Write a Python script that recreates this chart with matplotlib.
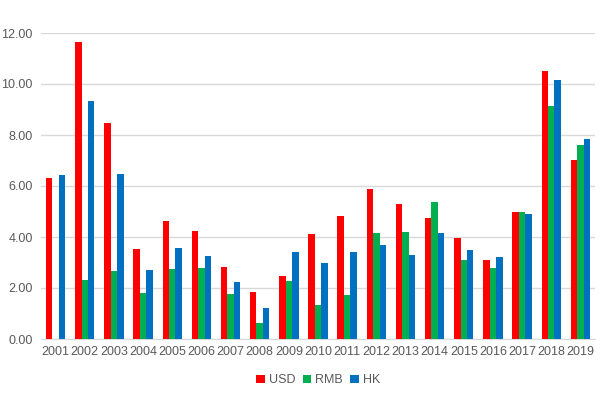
import matplotlib
matplotlib.use("Agg")
import matplotlib.pyplot as plt
import numpy as np

# values
years = [str(y) for y in range(2001, 2020)]
usd = [6.32, 11.66, 8.48, 3.53, 4.63, 4.25, 2.83, 1.85, 2.47, 4.12,
       4.83, 5.89, 5.30, 4.75, 3.97, 3.10, 4.99, 10.52, 7.03]
rmb = [0.0, 2.32, 2.67, 1.81, 2.75, 2.79, 1.77, 0.63, 2.28, 1.34,
       1.73, 4.16, 4.20, 5.38, 3.10, 2.79, 4.99, 9.15, 7.62]
hk = [6.44, 9.35, 6.48, 2.71, 3.57, 3.26, 2.24, 1.22, 3.42, 2.98,
      3.42, 3.69, 3.30, 4.16, 3.49, 3.22, 4.91, 10.17, 7.85]

plt.rcParams['font.family'] = ['Liberation Sans', 'DejaVu Sans']

fig = plt.figure(figsize=(6.06, 3.96), dpi=100)
ax = fig.add_axes([41 / 606, 1 - 339 / 396, 554 / 606, 306 / 396])

x = np.arange(len(years))
w = 0.222
ax.bar(x - w, usd, w, color='#FF0000', label='USD', zorder=3)
ax.bar(x, rmb, w, color='#00B050', label='RMB', zorder=3)
ax.bar(x + w, hk, w, color='#0070C0', label='HK', zorder=3)

ax.set_xlim(-0.5, len(years) - 0.5)
ax.set_ylim(0, 12)
ax.set_yticks(np.arange(0, 12.01, 2))
ax.set_yticklabels([f"{v:.2f}" for v in np.arange(0, 12.01, 2)])
ax.set_xticks(x)
ax.set_xticklabels(years)
ax.grid(axis='y', color='#D9D9D9', linewidth=1, zorder=0)
for s in ['top', 'right', 'left']:
    ax.spines[s].set_visible(False)
ax.spines['bottom'].set_color('#D9D9D9')
ax.tick_params(length=0, labelsize=9, labelcolor='#595959')
ax.tick_params(axis='x', pad=5)
ax.tick_params(axis='y', pad=6)

ax.legend(loc='center', bbox_to_anchor=(0.5, -0.135), ncol=3, frameon=False,
          fontsize=9, labelcolor='#595959', handlelength=0.7, handleheight=0.7,
          handletextpad=0.3, columnspacing=0.6)

fig.savefig('out.png', dpi=100)
